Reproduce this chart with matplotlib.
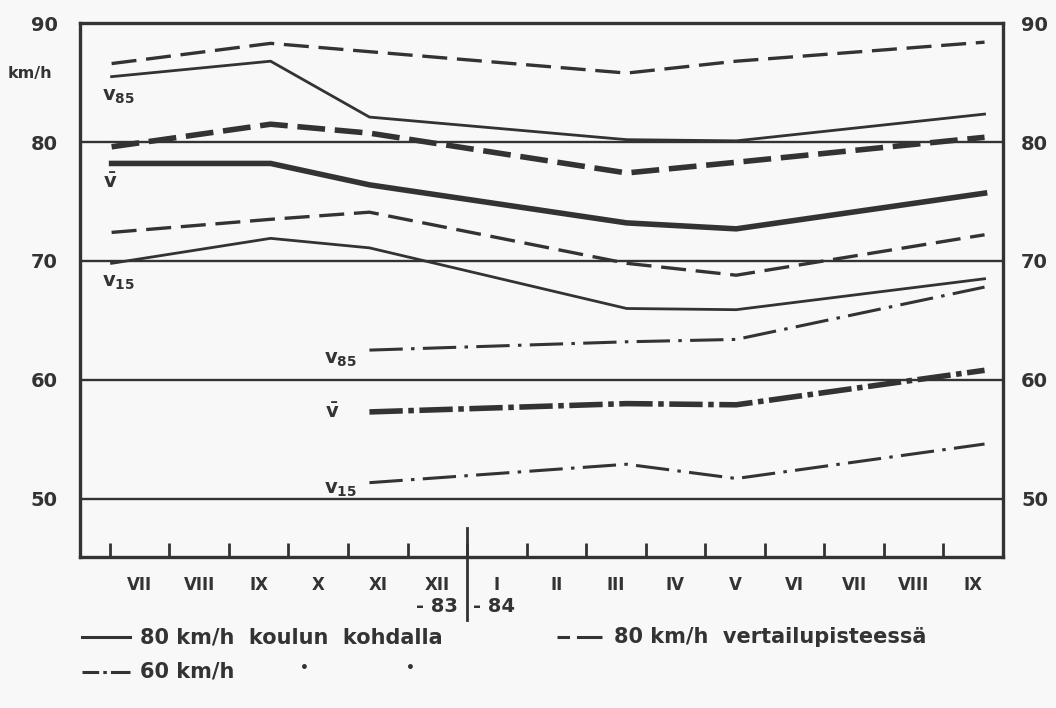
import numpy as np
import matplotlib.pyplot as plt
from matplotlib.lines import Line2D
import matplotlib.transforms as mtransforms

plt.rcParams['font.family'] = ['DejaVu Sans']
plt.rcParams['font.weight'] = 'bold'
plt.rcParams['mathtext.fontset'] = 'custom'
plt.rcParams['mathtext.rm'] = 'DejaVu Sans:bold'
plt.rcParams['mathtext.it'] = 'DejaVu Sans:bold'
plt.rcParams['lines.scale_dashes'] = False

# survey times in months from the start of July 1983
t80 = [0.03, 2.7, 4.36, 8.68, 10.52, 14.69]
t60 = [4.36, 8.68, 10.52, 14.69]

# 80 km/h koulun kohdalla
koulu_v85 = [85.5, 86.8, 82.1, 80.2, 80.1, 82.35]
koulu_vm = [78.2, 78.2, 76.4, 73.2, 72.7, 75.7]
koulu_v15 = [69.8, 71.9, 71.1, 66.0, 65.9, 68.5]

# 80 km/h vertailupisteessä
vert_v85 = [86.6, 88.3, 87.6, 85.8, 86.8, 88.4]
vert_vm = [79.6, 81.5, 80.75, 77.4, 78.3, 80.4]
vert_v15 = [72.4, 73.5, 74.1, 69.8, 68.8, 72.2]

# 60 km/h
s60_v85 = [62.5, 63.2, 63.4, 67.8]
s60_vm = [57.3, 58.0, 57.9, 60.8]
s60_v15 = [51.35, 52.9, 51.7, 54.6]

months = ['VII', 'VIII', 'IX', 'X', 'XI', 'XII', 'I', 'II', 'III', 'IV', 'V',
          'VI', 'VII', 'VIII', 'IX']
yticks = [50, 60, 70, 80, 90]

ink = '#333333'
bg = '#f8f8f8'

fig = plt.figure(figsize=(10.56, 7.08), dpi=100, facecolor=bg)
ax = fig.add_axes([0.0758, 0.2133, 0.874, 0.754], facecolor=bg)
ax.set_xlim(-0.5, 15.0)
ax.set_ylim(45.1, 90)

for y in yticks[:-1]:
    ax.axhline(y, color=ink, lw=1.7, zorder=1)

thin = 2.0
thick = 4.0
dash_thin = (0, (18, 7))
dash_thick = (0, (20, 7))
dd_thin = (0, (24, 6, 2.5, 6))
dd_thick = (0, (24, 4, 4, 4))

ax.plot(t80, koulu_v85, color=ink, lw=thin)
ax.plot(t80, koulu_vm, color=ink, lw=thick)
ax.plot(t80, koulu_v15, color=ink, lw=thin)
ax.plot(t80, vert_v85, color=ink, lw=2.4, ls=dash_thin)
ax.plot(t80, vert_vm, color=ink, lw=thick, ls=dash_thick)
ax.plot(t80, vert_v15, color=ink, lw=2.4, ls=dash_thin)
ax.plot(t60, s60_v85, color=ink, lw=2.2, ls=dd_thin)
ax.plot(t60, s60_vm, color=ink, lw=thick, ls=dd_thick)
ax.plot(t60, s60_v15, color=ink, lw=2.2, ls=dd_thin)

# series labels
lab = dict(fontsize=14, color=ink, va='center')
ax.text(-0.13, 83.8, r'$\mathregular{v_{85}}$', **lab)
ax.text(-0.12, 76.6, r'$\mathregular{\bar{v}}$', **lab)
ax.text(-0.13, 68.2, r'$\mathregular{v_{15}}$', **lab)
ax.text(3.6, 61.7, r'$\mathregular{v_{85}}$', **lab)
ax.text(3.62, 57.3, r'$\mathregular{\bar{v}}$', **lab)
ax.text(3.6, 50.8, r'$\mathregular{v_{15}}$', **lab)

# spines
for s in ax.spines.values():
    s.set_color(ink)
    s.set_linewidth(2.4)

# x ticks: month boundaries, labels in the middle of each month
ax.set_xticks(np.arange(15))
ax.set_xticks(np.arange(15) + 0.5, minor=True)
ax.set_xticklabels([])
ax.set_xticklabels(months, minor=True, fontsize=12, color=ink)
ax.tick_params(axis='x', which='major', direction='in', length=10, width=2, color=ink)
ax.tick_params(axis='x', which='minor', length=0, pad=14)

ax.set_yticks(yticks)
ax.set_yticklabels([str(v) for v in yticks], fontsize=14, color=ink)
ax.tick_params(axis='y', length=0, pad=16)

ax2 = ax.twinx()
ax2.set_ylim(ax.get_ylim())
ax2.set_yticks(yticks)
ax2.set_yticklabels([str(v) for v in yticks], fontsize=14, color=ink)
ax2.tick_params(axis='y', length=0, pad=13)
for s in ax2.spines.values():
    s.set_visible(False)

ax.text(-0.03, 0.905, 'km/h', transform=ax.transAxes, fontsize=11.5,
        color=ink, ha='right', va='center')

# year divider between XII and I
trans = mtransforms.blended_transform_factory(ax.transData, ax.transAxes)
ax.plot([6, 6], [0.055, -0.118], transform=trans, color=ink, lw=2,
        clip_on=False)
ax.text(5.85, -0.093, '- 83', transform=trans, fontsize=14, color=ink,
        ha='right', va='center')
ax.text(6.1, -0.093, '- 84', transform=trans, fontsize=14, color=ink,
        ha='left', va='center')

# legend
def leg_line(x0, x1, y, ls):
    fig.add_artist(Line2D([x0, x1], [y, y], transform=fig.transFigure,
                          color=ink, lw=2.2, ls=ls))

leg = dict(fontsize=15, color=ink, va='center')
leg_line(0.078, 0.123, 0.100, '-')
fig.text(0.133, 0.100, '80 km/h  koulun  kohdalla', **leg)
leg_line(0.527, 0.570, 0.100, (0, (9, 5, 22, 0)))
fig.text(0.581, 0.100, '80 km/h  vertailupisteessä', **leg)
leg_line(0.078, 0.123, 0.051, (0, (12, 3, 2.5, 3, 20, 0)))
fig.text(0.133, 0.051, '60 km/h', **leg)
fig.text(0.284, 0.056, '\u2022', fontsize=10, color=ink, va='center')
fig.text(0.384, 0.056, '\u2022', fontsize=10, color=ink, va='center')

fig.savefig('out.png', dpi=100, facecolor=bg)
